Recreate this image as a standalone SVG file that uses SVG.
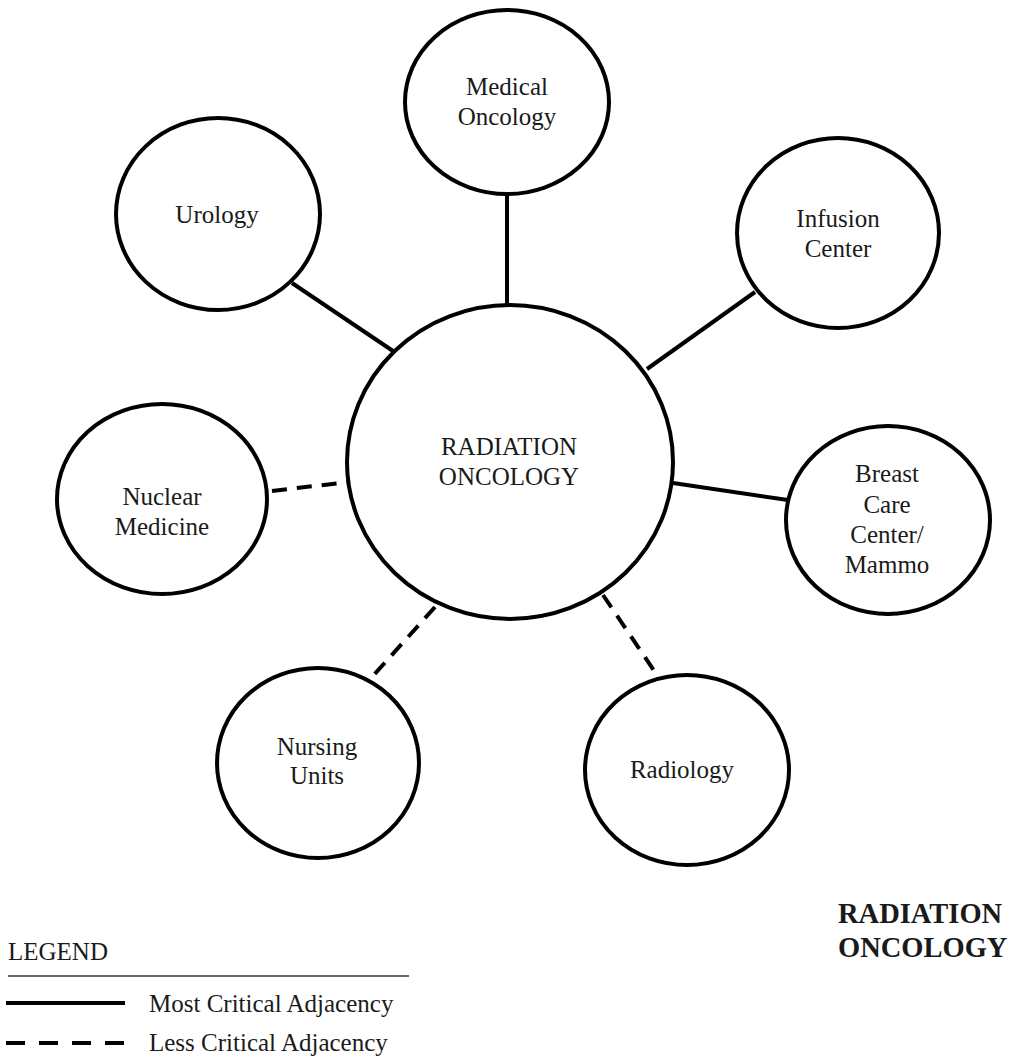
<svg xmlns="http://www.w3.org/2000/svg" width="1014" height="1057" viewBox="0 0 1014 1057">
<style>
.node{fill:#fff;stroke:#000;stroke-width:4}
.lbl{font-family:"Liberation Serif","Times New Roman",serif;font-size:25px;fill:#1a1a1a;text-anchor:middle}
.solid{stroke:#000;stroke-width:4;fill:none}
.dash{stroke:#000;stroke-width:4;fill:none;stroke-dasharray:15 10}
.leg{font-family:"Liberation Serif","Times New Roman",serif;font-size:25px;fill:#1a1a1a}
.title{font-family:"Liberation Serif","Times New Roman",serif;font-size:28.5px;font-weight:bold;fill:#1a1a1a}
</style>
<rect width="1014" height="1057" fill="#fff"/>
<g id="connectors">
<line class="solid" x1="507" y1="193" x2="507" y2="306"/>
<line class="solid" x1="292" y1="283" x2="393" y2="351"/>
<line class="solid" x1="755" y1="292" x2="647" y2="369"/>
<line class="dash" x1="272" y1="491" x2="349" y2="482"/>
<line class="solid" x1="673" y1="483" x2="788" y2="500"/>
<line class="dash" x1="435" y1="607" x2="372" y2="677"/>
<line class="dash" x1="603" y1="595" x2="659" y2="678"/>
</g>
<g id="radiation-oncology">
<ellipse class="node" cx="510" cy="462" rx="163" ry="157"/>
<text class="lbl" x="509" y="455" font-size="26.5">RADIATION</text>
<text class="lbl" x="509" y="485" font-size="26.5">ONCOLOGY</text>
</g>
<g id="medical-oncology">
<ellipse class="node" cx="507" cy="102" rx="102" ry="92"/>
<text class="lbl" x="507" y="95">Medical</text>
<text class="lbl" x="507" y="125">Oncology</text>
</g>
<g id="urology">
<ellipse class="node" cx="218" cy="214" rx="102" ry="96"/>
<text class="lbl" x="217" y="223">Urology</text>
</g>
<g id="infusion-center">
<ellipse class="node" cx="838" cy="233" rx="101" ry="95"/>
<text class="lbl" x="838" y="227">Infusion</text>
<text class="lbl" x="838" y="257">Center</text>
</g>
<g id="nuclear-medicine">
<ellipse class="node" cx="162" cy="499" rx="105" ry="95"/>
<text class="lbl" x="162" y="505">Nuclear</text>
<text class="lbl" x="162" y="535">Medicine</text>
</g>
<g id="breast-care">
<ellipse class="node" cx="888" cy="520" rx="102" ry="94"/>
<text class="lbl" x="887" y="482">Breast</text>
<text class="lbl" x="887" y="513">Care</text>
<text class="lbl" x="887" y="543">Center/</text>
<text class="lbl" x="887" y="573">Mammo</text>
</g>
<g id="nursing-units">
<ellipse class="node" cx="318" cy="763" rx="101" ry="95"/>
<text class="lbl" x="317" y="755">Nursing</text>
<text class="lbl" x="317" y="784">Units</text>
</g>
<g id="radiology">
<ellipse class="node" cx="687" cy="770" rx="102" ry="95"/>
<text class="lbl" x="682" y="778">Radiology</text>
</g>
<g id="title">
<text class="title" x="838" y="923">RADIATION</text>
<text class="title" x="838" y="957">ONCOLOGY</text>
</g>
<g id="legend">
<text class="leg" x="8" y="960">LEGEND</text>
<line x1="8" y1="976" x2="409" y2="976" stroke="#333" stroke-width="1.5"/>
<line class="solid" x1="6" y1="1003" x2="125" y2="1003"/>
<text class="leg" x="149" y="1012">Most Critical Adjacency</text>
<line x1="6" y1="1043" x2="125" y2="1043" stroke="#000" stroke-width="4" stroke-dasharray="19 14"/>
<text class="leg" x="149" y="1051">Less Critical Adjacency</text>
</g>
</svg>
